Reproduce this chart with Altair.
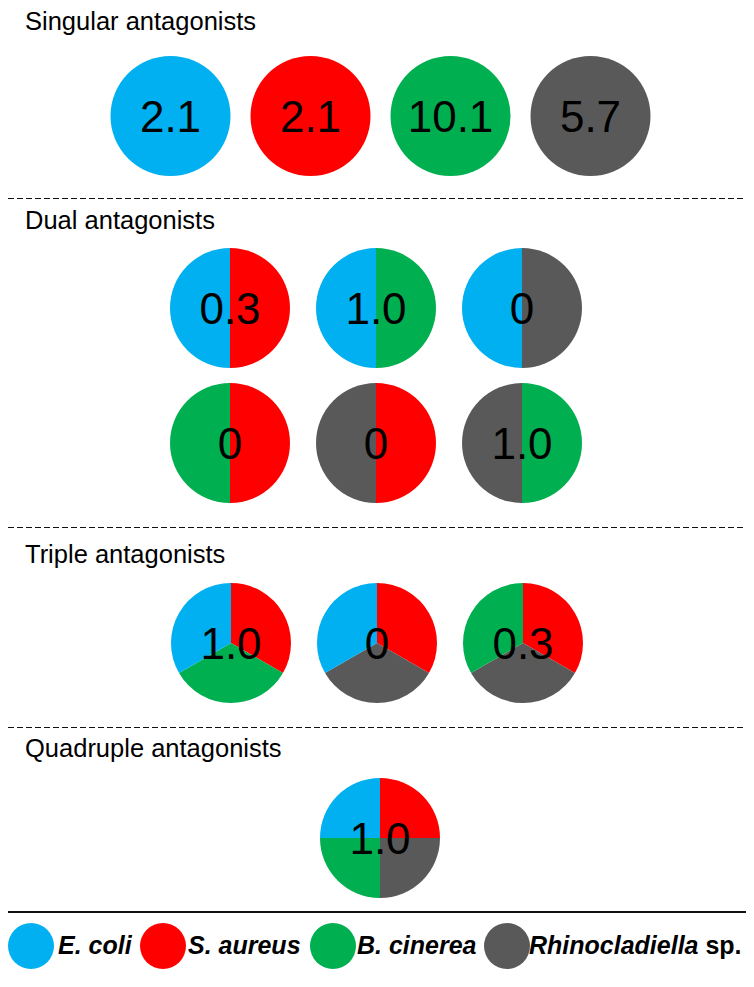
import math
import altair as alt
import pandas as pd

# ---------------- data ----------------
species = ["E. coli", "S. aureus", "B. cinerea", "Rhinocladiella sp."]
colors = ["#00B0F0", "#FF0000", "#00B050", "#595959"]

section_titles = ["Singular antagonists", "Dual antagonists",
                  "Triple antagonists", "Quadruple antagonists"]

# slices listed clockwise from 12 o'clock
singular_sets = [["E. coli"], ["S. aureus"], ["B. cinerea"], ["Rhinocladiella sp."]]
singular_vals = ["2.1", "2.1", "10.1", "5.7"]

dual_sets = [["S. aureus", "E. coli"], ["B. cinerea", "E. coli"],
             ["Rhinocladiella sp.", "E. coli"],
             ["S. aureus", "B. cinerea"], ["S. aureus", "Rhinocladiella sp."],
             ["B. cinerea", "Rhinocladiella sp."]]
dual_vals = ["0.3", "1.0", "0", "0", "0", "1.0"]

triple_sets = [["S. aureus", "B. cinerea", "E. coli"],
               ["S. aureus", "Rhinocladiella sp.", "E. coli"],
               ["S. aureus", "Rhinocladiella sp.", "B. cinerea"]]
triple_vals = ["1.0", "0", "0.3"]

quad_sets = [["S. aureus", "Rhinocladiella sp.", "B. cinerea", "E. coli"]]
quad_vals = ["1.0"]

# ---------------- layout (page pixels, converted to chart pixels) ----------------
W, H = 738, 971
OFF = 8
R = 60

layout = [
    dict(title_y=30, rows=[116], per_row=4, cx=380.5, dx=140),
    dict(title_y=229, rows=[308, 443], per_row=3, cx=376, dx=146),
    dict(title_y=563, rows=[643], per_row=3, cx=377, dx=146),
    dict(title_y=757, rows=[838], per_row=1, cx=380, dx=146),
]
dashed_ys = [198, 527, 727]
solid_y = 912

sections = [(singular_sets, singular_vals), (dual_sets, dual_vals),
            (triple_sets, triple_vals), (quad_sets, quad_vals)]

slice_rows, label_rows, title_rows = [], [], []
for s, ((sets, vals), lay) in enumerate(zip(sections, layout)):
    title_rows.append(dict(x=25 - OFF, y=lay["title_y"] - OFF, text=section_titles[s]))
    n = lay["per_row"]
    for i, (members, val) in enumerate(zip(sets, vals)):
        r, c = divmod(i, n)
        cx = lay["cx"] + (c - (n - 1) / 2) * lay["dx"] - OFF
        cy = lay["rows"][r] - OFF
        k = len(members)
        for j, sp in enumerate(members):
            slice_rows.append(dict(cx=cx, cy=cy, species=sp,
                                   t0=2 * math.pi * j / k, t1=2 * math.pi * (j + 1) / k))
        label_rows.append(dict(cx=cx, cy=cy, text=val))

slices = pd.DataFrame(slice_rows)
labels = pd.DataFrame(label_rows)
titles = pd.DataFrame(title_rows)
dashes = pd.DataFrame(dict(x0=[0] * len(dashed_ys), x1=[W] * len(dashed_ys),
                           y=[v - OFF + 0.5 for v in dashed_ys]))
solid = pd.DataFrame(dict(x0=[0], x1=[W], y=[solid_y - OFF]))

# legend
leg_circle_x = [31, 163, 333, 507]
leg_text_x = [58, 188, 357, 529]
leg_y = 946
LFS = 25
leg = pd.DataFrame(dict(cx=[v - OFF for v in leg_circle_x], cy=[leg_y - OFF] * 4,
                        species=species, t0=[0] * 4, t1=[2 * math.pi] * 4))
italic_parts = ["E. coli", "S. aureus", "B. cinerea", "Rhinocladiella"]
leg_txt = pd.DataFrame(dict(x=[v - OFF for v in leg_text_x], y=[leg_y - OFF] * 4,
                            text=italic_parts))
rhino_w = (6.78 + 0.278) * LFS
sp_txt = pd.DataFrame(dict(x=[leg_text_x[3] - OFF + rhino_w], y=[leg_y - OFF], text=["sp."]))

# ---------------- chart ----------------
xs = alt.Scale(domain=[0, W], range=[0, W], nice=False, zero=False)
ys = alt.Scale(domain=[0, H], range=[0, H], nice=False, zero=False)
cs = alt.Scale(domain=species, range=colors)

def X(f):
    return alt.X(f, type="quantitative", scale=xs, axis=None)

def Y(f):
    return alt.Y(f, type="quantitative", scale=ys, axis=None)

pies = alt.Chart(slices).mark_arc(radius=R, stroke=None).encode(
    x=X("cx"), y=Y("cy"),
    theta=alt.Theta("t0:Q", scale=None), theta2=alt.Theta2("t1"),
    color=alt.Color("species:N", scale=cs, legend=None),
)
pie_text = alt.Chart(labels).mark_text(
    font="Liberation Sans", fontSize=44, color="black", align="center",
    baseline="alphabetic", dy=16,
).encode(x=X("cx"), y=Y("cy"), text="text:N")

title_text = alt.Chart(titles).mark_text(
    font="Liberation Sans", fontSize=25.5, color="black", align="left",
    baseline="alphabetic",
).encode(x=X("x"), y=Y("y"), text="text:N")

dash_rules = alt.Chart(dashes).mark_rule(
    strokeDash=[6, 3], color="#111111", strokeWidth=1,
).encode(x=X("x0"), x2="x1", y=Y("y"))

solid_rule = alt.Chart(solid).mark_rule(color="#111111", strokeWidth=2).encode(
    x=X("x0"), x2="x1", y=Y("y"))

leg_circles = alt.Chart(leg).mark_arc(radius=23, stroke=None).encode(
    x=X("cx"), y=Y("cy"),
    theta=alt.Theta("t0:Q", scale=None), theta2=alt.Theta2("t1"),
    color=alt.Color("species:N", scale=cs, legend=None),
)
leg_labels = alt.Chart(leg_txt).mark_text(
    font="Liberation Sans", fontSize=LFS, fontStyle="italic", fontWeight="bold",
    color="black", align="left", baseline="middle",
).encode(x=X("x"), y=Y("y"), text="text:N")
leg_sp = alt.Chart(sp_txt).mark_text(
    font="Liberation Sans", fontSize=LFS, fontWeight="bold",
    color="black", align="left", baseline="middle",
).encode(x=X("x"), y=Y("y"), text="text:N")

chart = alt.layer(
    dash_rules, solid_rule, pies, pie_text, title_text, leg_circles, leg_labels, leg_sp
).properties(
    width=W, height=H, padding=0, autosize=alt.AutoSizeParams(type="none"),
).configure_view(stroke=None)

chart.save("out.html", embed_options={"renderer": "svg", "actions": False})
